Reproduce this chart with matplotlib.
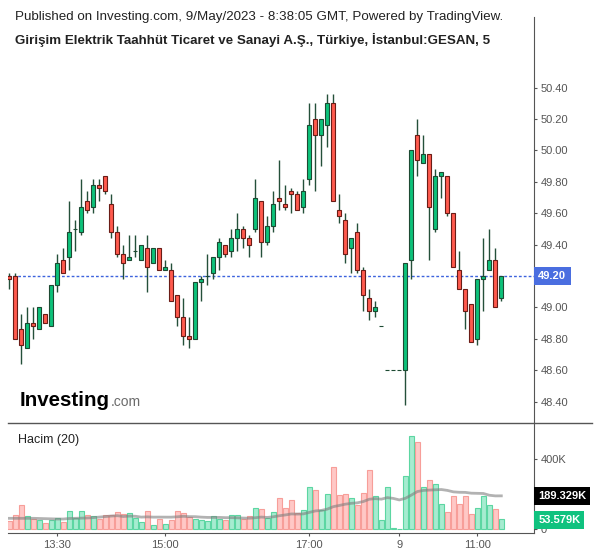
import numpy as np
import pandas as pd
import matplotlib
matplotlib.use('agg')
import matplotlib.pyplot as plt
from matplotlib.lines import Line2D
from matplotlib.ticker import FixedLocator, FuncFormatter

plt.rcParams['font.family'] = ['Liberation Sans', 'DejaVu Sans']

# 5-minute bars, GESAN, 8-9 May 2023
opens = [49.20, 49.20, 48.86, 48.74, 48.90, 48.86, 48.96, 48.88, 49.14, 49.30,
         49.32, 49.50, 49.48, 49.68, 49.64, 49.78, 49.84, 49.66, 49.48, 49.34,
         49.30, 49.36, 49.30, 49.38, 49.28, 49.38, 49.24, 49.24, 49.08, 48.94,
         48.82, 48.80, 49.16, 49.20, 49.22, 49.32, 49.40, 49.36, 49.44, 49.50,
         49.44, 49.50, 49.68, 49.42, 49.52, 49.70, 49.66, 49.74, 49.72, 49.64,
         49.82, 50.20, 50.10, 50.16, 50.30, 49.62, 49.56, 49.38, 49.48, 49.24,
         49.06, 48.98, 48.88, 48.60, 48.60, 48.60, 48.60, 49.30, 50.10, 49.92,
         49.98, 49.50, 49.84, 49.84, 49.60, 49.24, 49.12, 49.02, 48.80, 49.18,
         49.24, 49.30, 49.06]
highs = [49.22, 49.22, 48.96, 49.00, 49.00, 49.00, 48.96, 49.14, 49.34, 49.38,
         49.68, 49.56, 49.82, 49.74, 49.82, 49.82, 49.84, 49.72, 49.52, 49.40,
         49.46, 49.46, 49.40, 49.46, 49.38, 49.38, 49.30, 49.28, 49.08, 49.06,
         48.94, 49.16, 49.20, 49.34, 49.32, 49.44, 49.40, 49.50, 49.60, 49.52,
         49.46, 49.82, 49.68, 49.58, 49.74, 49.94, 49.78, 49.76, 49.74, 49.82,
         50.30, 50.30, 50.20, 50.36, 50.36, 49.72, 49.60, 49.44, 49.54, 49.26,
         49.12, 49.04, 48.88, 48.60, 48.60, 48.60, 49.28, 50.00, 50.20, 50.10,
         49.98, 49.88, 49.86, 49.84, 49.60, 49.36, 49.12, 49.02, 49.18, 49.44,
         49.50, 49.38, 49.20]
lows = [49.12, 48.80, 48.64, 48.74, 48.80, 48.86, 48.90, 48.88, 49.10, 49.22,
        49.24, 49.36, 49.46, 49.60, 49.60, 49.68, 49.72, 49.44, 49.32, 49.18,
        49.30, 49.32, 49.30, 49.10, 49.28, 49.24, 49.24, 49.04, 48.88, 48.76,
        48.74, 48.80, 49.04, 49.14, 49.18, 49.24, 49.32, 49.32, 49.36, 49.38,
        49.32, 49.48, 49.32, 49.40, 49.48, 49.62, 49.62, 49.60, 49.62, 49.60,
        49.78, 49.74, 49.90, 50.02, 49.68, 49.54, 49.28, 49.22, 49.22, 48.98,
        48.92, 48.94, 48.88, 48.60, 48.60, 48.60, 48.38, 49.18, 49.84, 49.92,
        49.30, 49.48, 49.70, 49.58, 49.26, 49.12, 48.86, 48.78, 48.76, 48.98,
        49.24, 49.00, 49.04]
closes = [49.18, 48.80, 48.76, 48.90, 48.88, 49.00, 48.90, 49.14, 49.28, 49.22,
          49.48, 49.50, 49.64, 49.62, 49.78, 49.76, 49.74, 49.48, 49.34, 49.28,
          49.32, 49.36, 49.40, 49.26, 49.38, 49.24, 49.26, 49.04, 48.94, 48.82,
          48.80, 49.16, 49.18, 49.20, 49.32, 49.42, 49.34, 49.44, 49.50, 49.44,
          49.40, 49.70, 49.42, 49.52, 49.66, 49.68, 49.64, 49.72, 49.62, 49.74,
          50.16, 50.10, 50.20, 50.30, 49.68, 49.58, 49.34, 49.44, 49.24, 49.08,
          48.98, 49.00, 48.88, 48.60, 48.60, 48.60, 49.28, 50.00, 49.94, 49.98,
          49.64, 49.84, 49.86, 49.60, 49.26, 49.12, 48.98, 48.78, 49.18, 49.20,
          49.30, 49.00, 49.20]
# volume in thousands
volumes = [46, 78, 135, 72, 55, 51, 32, 51, 61, 38,
           103, 61, 103, 78, 72, 55, 78, 78, 97, 84,
           90, 61, 38, 103, 21, 55, 27, 51, 103, 91,
           67, 55, 51, 46, 72, 55, 51, 78, 78, 55,
           72, 119, 112, 61, 97, 175, 118, 164, 90, 109,
           238, 221, 109, 198, 352, 192, 198, 175, 135, 204,
           335, 187, 51, 238, 6, 2, 301, 531, 495, 238,
           278, 255, 141, 97, 187, 141, 187, 84, 118, 187,
           135, 112, 55]
# 20-bar volume average before a full window is on screen
vol_ma_head = [61, 61, 61, 61, 61, 60, 59, 58, 57, 57,
               60, 61, 62, 63, 65, 68, 71, 74, 76]

tick_pos = [8, 26, 50, 65, 78]
tick_labels = ['13:30', '15:00', '17:00', '9', '11:00']
# 49.20 sits under the last-price tag
price_ticks = [48.40, 48.60, 48.80, 49.00, 49.40, 49.60, 49.80, 50.00, 50.20, 50.40]
last_price = 49.20
vol_ma_label = 189.329
vol_last_label = 53.579

o = np.array(opens)
h = np.array(highs)
l = np.array(lows)
c = np.array(closes)
v = np.array(volumes, dtype=float)
x = np.arange(len(o))
up = c >= o

ma = pd.Series(v).rolling(20).mean().to_numpy()
ma[:len(vol_ma_head)] = vol_ma_head

GREEN = '#0dc27a'
RED = '#ff5a4e'
GREEN_EDGE = '#1d4a33'
RED_EDGE = '#6a1c16'
AXC = '#555555'

fig = plt.figure(figsize=(6, 5.58), dpi=100)
ax = fig.add_axes([8 / 600, 1 - 423 / 558, 526 / 600, 406 / 558])
axv = fig.add_axes([8 / 600, 1 - 533 / 558, 526 / 600, 110 / 558], sharex=ax)

# candles
ax.vlines(x, l, h, color='#24503a', lw=1, zorder=1)
ax.bar(x, np.abs(c - o), bottom=np.minimum(o, c), width=0.62,
       color=np.where(up, GREEN, RED), edgecolor=np.where(up, GREEN_EDGE, RED_EDGE),
       linewidth=0.8, zorder=2)
ax.axhline(last_price, color='#3d63dd', lw=1, ls=(0, (2, 1.5)), zorder=0)

ax.set_xlim(-0.22, 87.45)
ax.set_ylim(48.264, 50.850)
ax.yaxis.tick_right()
ax.yaxis.set_major_locator(FixedLocator(price_ticks))
ax.yaxis.set_major_formatter(FuncFormatter(lambda val, pos: '%.2f' % val))
ax.tick_params(axis='y', colors=AXC, labelsize=8, length=2.5, pad=2.5, width=0.8)
ax.tick_params(axis='x', bottom=False, labelbottom=False)
for s in ['left', 'top', 'bottom']:
    ax.spines[s].set_visible(False)
ax.spines['right'].set_color(AXC)

ax.annotate('%.2f' % last_price, xy=(1, last_price), xycoords=('axes fraction', 'data'),
            xytext=(3, 0), textcoords='offset points', ha='left', va='center',
            color='white', fontsize=8, fontweight='bold',
            bbox=dict(boxstyle='square,pad=0.4', fc='#4a6ee0', ec='none'),
            annotation_clip=False)

# volume
axv.bar(x, v, width=0.8, color=np.where(up, '#a6ecd0', '#ffc8c6'),
        edgecolor=np.where(up, '#5cd6a2', '#f79e99'), linewidth=0.8, zorder=2)
axv.plot(x, ma, color='#7f7f7f', alpha=0.6, lw=2, zorder=3)
axv.set_ylim(-22.9, 605.7)
axv.yaxis.tick_right()
axv.yaxis.set_major_locator(FixedLocator([0, 400]))
axv.yaxis.set_major_formatter(FuncFormatter(lambda val, pos: '0' if val == 0 else '%dK' % val))
axv.tick_params(axis='y', colors=AXC, labelsize=8, length=2.5, pad=2.5, width=0.8)
axv.xaxis.set_major_locator(FixedLocator(tick_pos))
axv.set_xticklabels(tick_labels)
axv.tick_params(axis='x', colors=AXC, labelsize=8, length=2.5, pad=2.5, width=0.8)
for s in ['left', 'top']:
    axv.spines[s].set_visible(False)
axv.spines['right'].set_color(AXC)
axv.spines['bottom'].set_color(AXC)

axv.annotate('%.3fK' % vol_ma_label, xy=(1, vol_ma_label), xycoords=('axes fraction', 'data'),
             xytext=(3, 0), textcoords='offset points', ha='left', va='center',
             color='white', fontsize=8, fontweight='bold',
             bbox=dict(boxstyle='square,pad=0.35', fc='black', ec='none'),
             annotation_clip=False, zorder=5)
axv.annotate('%.3fK' % vol_last_label, xy=(1, vol_last_label), xycoords=('axes fraction', 'data'),
             xytext=(3, 0), textcoords='offset points', ha='left', va='center',
             color='white', fontsize=8, fontweight='bold',
             bbox=dict(boxstyle='square,pad=0.35', fc='#10c27f', ec='none'),
             annotation_clip=False, zorder=5)
axv.text(10 / 526, 1 - 17 / 110, 'Hacim (20)', transform=axv.transAxes,
         ha='left', va='center', fontsize=9, color='#222222')

fig.add_artist(Line2D([8 / 600, 592 / 600], [1 - 423 / 558] * 2,
                      transform=fig.transFigure, color=AXC, lw=1))

# header and logo
fig.text(15 / 600, 1 - 17 / 558,
         'Published on Investing.com, 9/May/2023 - 8:38:05 GMT, Powered by TradingView.',
         ha='left', va='center', fontsize=9.6, color='#222222')
fig.text(15 / 600, 1 - 40 / 558,
         'Girişim Elektrik Taahhüt Ticaret ve Sanayi A.Ş., Türkiye, İstanbul:GESAN, 5',
         ha='left', va='center', fontsize=9.6, fontweight='bold', color='#222222')
fig.text(20 / 600, 1 - 400 / 558, 'Investing', ha='left', va='center',
         fontsize=14.8, fontweight='bold', color='black')
fig.text(111 / 600, 1 - 402 / 558, '.com', ha='left', va='center',
         fontsize=10, color='#6b6b6b')

fig.savefig('out.png', dpi=100, facecolor='white')
